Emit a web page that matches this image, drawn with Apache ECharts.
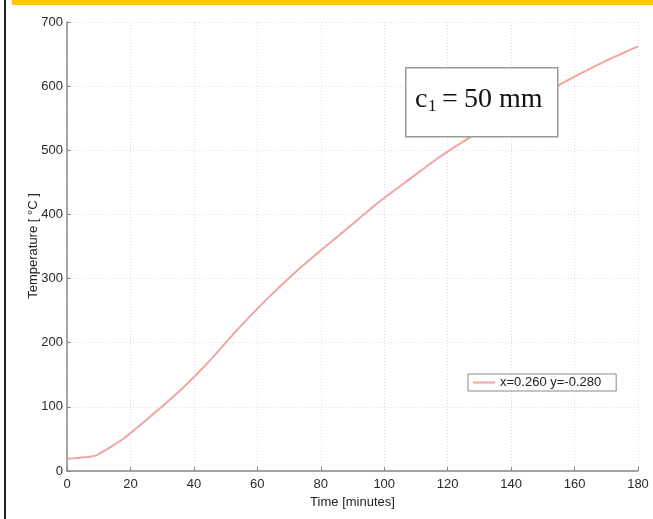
<!DOCTYPE html>
<html>
<head>
<meta charset="utf-8">
<script src="https://cdn.jsdelivr.net/npm/echarts@6/dist/echarts.min.js"></script>
<style>
  html, body { margin: 0; padding: 0; background: #fff; }
  #chart { width: 653px; height: 519px; }
</style>
</head>
<body>
<div id="chart"></div>
<script>
// Furnace test: steel temperature over time for cover c1 = 50 mm
const timeMinutes = [0, 9, 18, 27, 36, 45, 54, 63, 72, 81, 90, 99, 108, 117, 126, 135, 144, 153, 162, 171, 180];
const temperatureC = [19, 24, 51, 88, 127, 172, 222, 268, 310, 348, 385, 422, 455, 488, 517, 544, 570, 596, 620, 642, 662];
const seriesName = 'x=0.260 y=-0.280';
const yAxisTitle = 'Temperature [ °C ]';
const xTicks = { min: 0, max: 180, step: 20 };
const yTicks = { min: 0, max: 700, step: 100 };

const points = timeMinutes.map((t, i) => [t, temperatureC[i]]);

const chart = echarts.init(document.getElementById('chart'), null, { renderer: 'canvas' });

const gridLine = { show: true, lineStyle: { color: '#dcdcdc', type: [1, 2], width: 1 } };
const axisLabelStyle = { color: '#2a2a2a', fontFamily: 'Liberation Sans', fontSize: 13 };

chart.setOption({
  animation: false,
  backgroundColor: '#fff',
  grid: { left: 67, right: 15, top: 22, bottom: 48, containLabel: false },
  xAxis: {
    type: 'value',
    min: xTicks.min, max: xTicks.max, interval: xTicks.step,
    name: 'Time [minutes]',
    nameLocation: 'middle',
    nameGap: 21,
    nameTextStyle: { color: '#222', fontFamily: 'Liberation Sans', fontSize: 13 },
    axisLine: { show: true, lineStyle: { color: '#888', width: 1.5 } },
    axisTick: { show: true, inside: true, length: 4, lineStyle: { color: '#888' } },
    axisLabel: Object.assign({ margin: 7 }, axisLabelStyle),
    splitLine: gridLine
  },
  yAxis: {
    type: 'value',
    min: yTicks.min, max: yTicks.max, interval: yTicks.step,
    axisLine: { show: true, lineStyle: { color: '#888', width: 1.5 } },
    axisTick: { show: true, inside: true, length: 4, lineStyle: { color: '#888' } },
    axisLabel: Object.assign({ margin: 4 }, axisLabelStyle),
    splitLine: gridLine
  },
  legend: {
    left: 468, top: 374,
    orient: 'horizontal',
    backgroundColor: '#fff',
    borderColor: '#888', borderWidth: 1, borderRadius: 0,
    padding: [2, 15, 2, 5],
    itemWidth: 22, itemHeight: 2, itemGap: 7,
    icon: 'rect',
    textStyle: { color: '#222', fontFamily: 'Liberation Sans', fontSize: 13 },
    data: [seriesName]
  },
  series: [{
    name: seriesName,
    type: 'line',
    data: points,
    showSymbol: false,
    smooth: 0.15,
    lineStyle: { color: '#f4a3a3', width: 2 },
    itemStyle: { color: '#f4a3a3' },
    z: 3
  }],
  graphic: [
    // page edge decorations
    { type: 'rect', left: 12, top: 0, shape: { width: 641, height: 5 }, style: { fill: '#ffc512' }, z: 10 },
    { type: 'rect', left: 4, top: 0, shape: { width: 2, height: 519 }, style: { fill: '#222' }, z: 10 },
    // vertical axis title
    { type: 'text', x: 33, y: 246, rotation: Math.PI / 2,
      style: { text: yAxisTitle, font: '13px "Liberation Sans"', fill: '#222', align: 'center', verticalAlign: 'middle' } },
    // annotation box
    { type: 'rect', left: 405, top: 67, shape: { width: 152, height: 69 },
      style: { fill: '#fff', stroke: '#999', lineWidth: 1.5 }, z: 20 },
    { type: 'text', left: 415, top: 86, style: { text: 'c', font: '28px "Liberation Serif"', fill: '#111' }, z: 21 },
    { type: 'text', left: 428, top: 98, style: { text: '1', font: '17px "Liberation Serif"', fill: '#111' }, z: 21 },
    { type: 'text', left: 442, top: 86, style: { text: '=', font: '28px "Liberation Serif"', fill: '#111' }, z: 21 },
    { type: 'text', left: 464, top: 86, style: { text: '50 mm', font: '28px "Liberation Serif"', fill: '#111' }, z: 21 }
  ]
});
</script>
</body>
</html>
